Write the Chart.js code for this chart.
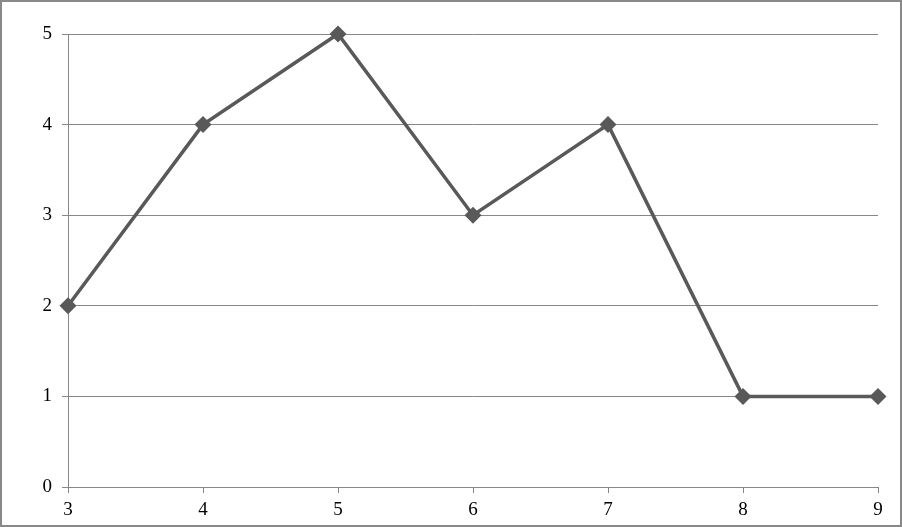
<!DOCTYPE html>
<html>
<head>
<meta charset="utf-8">
<script src="https://cdn.jsdelivr.net/npm/chart.js@4/dist/chart.umd.min.js"></script>
<style>
  html, body { margin: 0; padding: 0; background: #fff; }
  #wrap { width: 902px; height: 527px; box-sizing: border-box; border: 2px solid #898989; background: #fff; }
  canvas { display: block; }
</style>
</head>
<body>
<div id="wrap"><canvas id="c" width="898" height="523"></canvas></div>
<script>
const categories = ['3', '4', '5', '6', '7', '8', '9'];
const values = [2, 4, 5, 3, 4, 1, 1];
const yTicks = [0, 1, 2, 3, 4, 5];

const lineColor = '#595959';
const gridColor = '#878787';
const fontSpec = { family: '"Liberation Serif", "Times New Roman", serif', size: 19 };

new Chart(document.getElementById('c'), {
  type: 'line',
  data: {
    labels: categories,
    datasets: [{
      data: values,
      borderColor: lineColor,
      backgroundColor: lineColor,
      borderWidth: 3.5,
      pointStyle: 'rectRot',
      pointRadius: 8.5,
      pointBorderWidth: 0,
      pointBackgroundColor: lineColor,
      tension: 0,
      clip: false
    }]
  },
  options: {
    responsive: false,
    animation: false,
    events: [],
    layout: { padding: { top: 32, right: 22, left: 0, bottom: 0 } },
    plugins: { legend: { display: false }, tooltip: { enabled: false } },
    scales: {
      x: {
        type: 'category',
        offset: false,
        grid: { drawOnChartArea: false, drawTicks: true, tickLength: 6, color: gridColor },
        border: { display: true, color: gridColor, width: 1 },
        ticks: { color: '#000', font: fontSpec, padding: 6, maxRotation: 0, autoSkip: false },
        afterFit: (s) => { s.height = 38; s.paddingLeft = 0; s.paddingRight = 0; }
      },
      y: {
        min: 0, max: 5,
        afterBuildTicks: (s) => { s.ticks = yTicks.map(v => ({ value: v })); },
        grid: { drawTicks: true, tickLength: 6, color: gridColor },
        border: { display: true, color: gridColor, width: 1 },
        ticks: { color: '#000', font: fontSpec, padding: 10 },
        afterFit: (s) => { s.width = 66; s.paddingTop = 0; s.paddingBottom = 0; }
      }
    }
  }
});
</script>
</body>
</html>
